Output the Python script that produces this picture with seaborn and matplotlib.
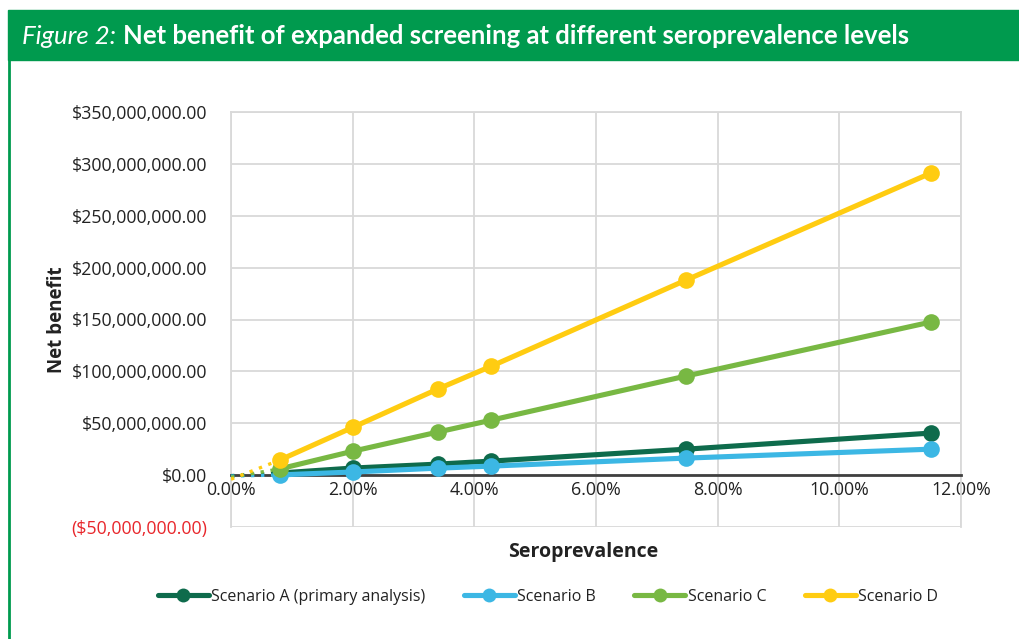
import seaborn as sns
import matplotlib.pyplot as plt
import matplotlib.ticker as mticker
from matplotlib.patches import Rectangle
from matplotlib.lines import Line2D
import pandas as pd

# Dati (sieroprevalenza in %, beneficio netto in $)
prevalence = [0.8, 2.0, 3.4, 4.28, 7.48, 11.5]
scenario_a = [2.0e6, 6.8e6, 10.6e6, 13.5e6, 25.0e6, 40.5e6]
scenario_b = [0.2e6, 3.0e6, 6.7e6, 8.7e6, 16.4e6, 25.0e6]
scenario_c = [6.0e6, 23.0e6, 41.5e6, 53.0e6, 95.5e6, 147.5e6]
scenario_d = [14.5e6, 46.0e6, 83.0e6, 105.0e6, 188.0e6, 291.0e6]
# valori della tendenza tratteggiata a 0%
trend_start = [-0.5e6, -1.0e6, -2.0e6, -4.0e6]

names = ["Scenario A (primary analysis)", "Scenario B", "Scenario C", "Scenario D"]
colors = ["#0E6B4C", "#3CB7E4", "#78B843", "#FFCC11"]
series = [scenario_a, scenario_b, scenario_c, scenario_d]

df = pd.DataFrame({
    "Seroprevalence": prevalence * 4,
    "Net benefit": sum(series, []),
    "Scenario": [n for n in names for _ in prevalence],
})

sns.set_style("white")
plt.rcParams["font.family"] = ["Open Sans", "DejaVu Sans"]

fig = plt.figure(figsize=(10.19, 6.39), dpi=100)
ax = fig.add_axes([0.2267, 0.1753, 0.7164, 0.6494])

# linee tratteggiate da 0 al primo punto
for s, y0, c in zip(series, trend_start, colors):
    ax.plot([0, prevalence[0]], [y0, s[0]], linestyle=(0, (1, 2.0)), color=c, lw=2.4, zorder=2.6)

sns.lineplot(data=df, x="Seroprevalence", y="Net benefit", hue="Scenario",
             palette=colors, hue_order=names, marker="o", markersize=12,
             markeredgewidth=0, linewidth=3.7, ax=ax, legend=False, zorder=3)

ax.set_xlim(0, 12)
ax.set_ylim(-50e6, 350e6)
ax.xaxis.set_major_locator(mticker.MultipleLocator(2))
ax.yaxis.set_major_locator(mticker.MultipleLocator(50e6))
ax.xaxis.set_major_formatter(mticker.FuncFormatter(lambda v, p: f"{v:.2f}%"))


def money(v, p):
    if v < 0:
        return f"(${-v:,.2f})"
    return f"${v:,.2f}"


ax.yaxis.set_major_formatter(mticker.FuncFormatter(money))
ax.grid(True, color="#D9D9D9", lw=1.3)
ax.set_axisbelow(True)
for side in ["left", "right", "top"]:
    ax.spines[side].set_color("#D9D9D9")
    ax.spines[side].set_linewidth(1.3)
ax.spines["bottom"].set_position(("data", 0))
ax.spines["bottom"].set_color("#404040")
ax.spines["bottom"].set_linewidth(2)
ax.spines["bottom"].set_zorder(2.5)
ax.tick_params(axis="both", length=0, labelsize=12.8, colors="#222222")
ax.tick_params(axis="y", pad=17)
ax.tick_params(axis="x", pad=4)
for lab in ax.get_yticklabels():
    if lab.get_text().startswith("("):
        lab.set_color("#E8262B")

ax.set_xlabel("")
ax.set_ylabel("Net benefit", fontsize=13.5, fontweight="bold", color="#222222", labelpad=3)
fig.text(583 / 1019, 1 - 552 / 639, "Seroprevalence", ha="center", va="center",
         fontsize=14, fontweight="bold", color="#222222")

handles = [Line2D([], [], color=c, lw=3.7, marker="o", markersize=10, markeredgewidth=0)
           for c in colors]
fig.legend(handles, names, loc="center", ncol=4, frameon=False, fontsize=11.5,
           bbox_to_anchor=(548 / 1019, 1 - 597 / 639), handlelength=3.2,
           handletextpad=0.15, columnspacing=2.4, labelcolor="#222222")

# cornice verde con il titolo
green = "#009A4E"
fig.patches.append(Rectangle((8 / 1019, 1 - 60 / 639), 1, 50 / 639, transform=fig.transFigure,
                             color=green, zorder=0))
fig.add_artist(Line2D([8.5 / 1019, 8.5 / 1019], [0, 1 - 60 / 639], color=green, lw=2,
                      transform=fig.transFigure))
t1 = fig.text(22 / 1019, 1 - 36 / 639, "Figure 2:", color="white", fontsize=18.5,
              fontstyle="italic", va="center", ha="left", family=["Lato", "DejaVu Sans"])
fig.canvas.draw()
bb = t1.get_window_extent()
fig.text((bb.x1 + 7) / fig.bbox.width, 1 - 36 / 639,
         "Net benefit of expanded screening at different seroprevalence levels",
         color="white", fontsize=18.5, fontweight="bold", va="center", ha="left",
         family=["Lato", "DejaVu Sans"])

fig.savefig("out.png", dpi=100)
